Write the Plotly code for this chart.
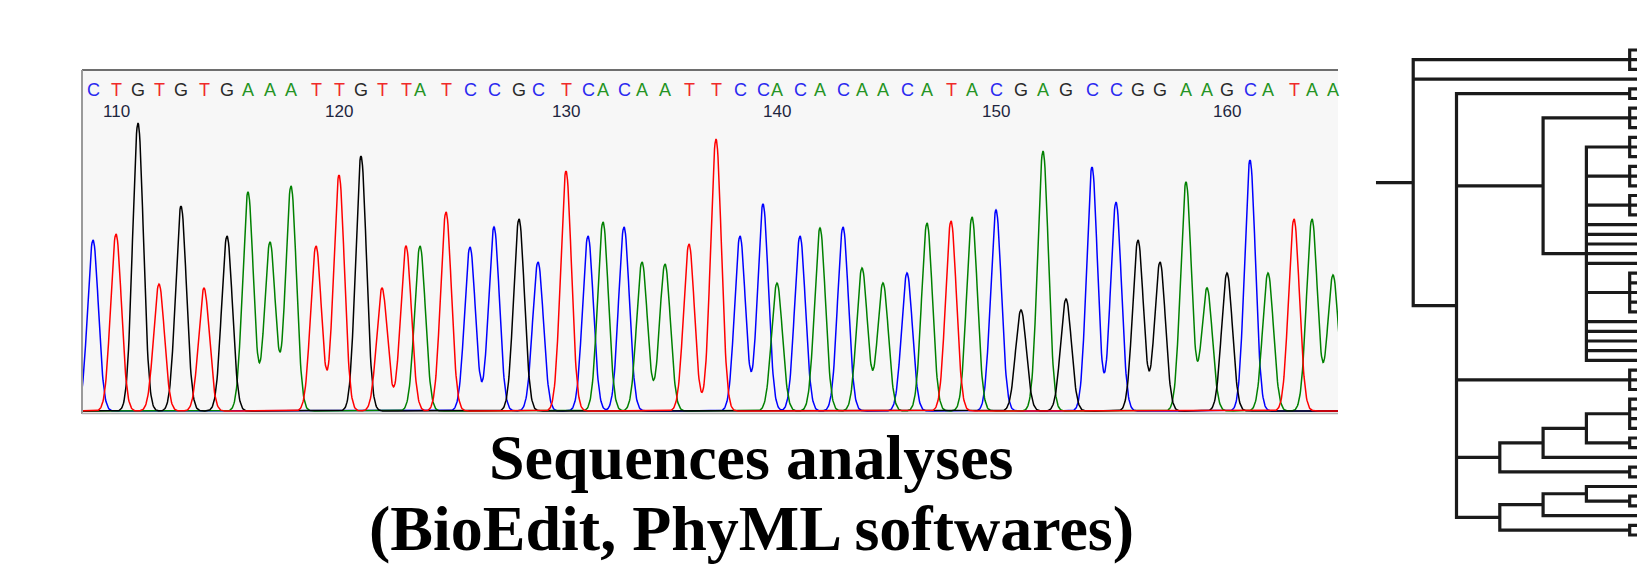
import numpy as np
import plotly.graph_objects as go

# ---------------- chromatogram data ----------------
sequence = "CTGTGTGAAATTGTTATCCGCTCACAATTCCACACAACATACGAGCCGGAAGCATAA"
first_position = 109
# base-call positions along the trace (scan units) and peak heights (signal units)
peak_pos = [10, 33, 55, 76, 98, 121, 144, 165, 187, 208, 233, 256, 278, 299, 323,
            337, 363, 387, 411, 436, 455, 483, 505, 520, 541, 559, 582, 606, 633,
            657, 680, 694, 717, 737, 760, 779, 800, 824, 844, 868, 889, 913, 938,
            960, 983, 1009, 1033, 1055, 1077, 1103, 1124, 1144, 1167, 1185, 1211,
            1229, 1250]
peak_height = [171, 177, 288, 127, 205, 123, 175, 219, 169, 225, 165, 236, 255, 123,
               165, 165, 199, 164, 184, 192, 149, 240, 175, 189, 184, 149, 147, 167,
               272, 175, 207, 128, 175, 183, 184, 143, 128, 138, 188, 190, 194, 201,
               101, 260, 112, 244, 209, 171, 149, 229, 123, 138, 251, 138, 192, 192,
               136]
peak_width = 5.4
scan_range = [0, 1255]
signal_range = [-2, 341]

# ---------------- phylogenetic tree (topology) ----------------
tree_newick = ("((L,L,L),L,((L,L),((L,L,L),((L,L,L),(L,L,L),(L,L,L),L,L,L,L,L,"
               "(L,L,L,L,L),L,L,L,L,L)),(L,L,L),((((L,L,L,L),(L,L)),L),(L,L)),"
               "(((L,(L,L)),L),(L,L))))")
root_stem = 0.86

title_lines = ["Sequences analyses", "(BioEdit, PhyML softwares)"]

base_color = {"C": "#0000ff", "T": "#ff0000", "G": "#000000", "A": "#008000"}
letter_color = {"C": "#2a2af0", "T": "#f02a2a", "G": "#2a2a2a", "A": "#249424"}

W, H = 1637, 567


def px_x(p):
    return p / W


def px_y(p):
    return 1 - p / H


fig = go.Figure()

# ---- chromatogram traces ----
xs = np.arange(scan_range[0] - 5, scan_range[1] + 5, 0.5)
for base in ["C", "A", "G", "T"]:
    ys = np.zeros_like(xs)
    for b, p, h in zip(sequence, peak_pos, peak_height):
        if b == base:
            ys += h * np.exp(-((xs - p) ** 2) / (2 * peak_width ** 2))
    fig.add_trace(go.Scatter(x=xs, y=ys, mode="lines",
                             line=dict(color=base_color[base], width=1.5),
                             hoverinfo="skip", showlegend=False,
                             xaxis="x", yaxis="y"))

# ---- tree layout ----
def parse(s):
    pos = 0

    def node():
        nonlocal pos
        if s[pos] == "(":
            pos += 1
            kids = [node()]
            while s[pos] == ",":
                pos += 1
                kids.append(node())
            pos += 1  # ')'
            return kids
        pos += 1
        return "L"
    return node()


tree = parse(tree_newick)
leaf_counter = [0]


def layout(n):
    if n == "L":
        y = leaf_counter[0]
        leaf_counter[0] += 1
        return {"h": 0, "y": y, "kids": []}
    kids = [layout(k) for k in n]
    return {"h": 1 + max(k["h"] for k in kids),
            "y": (kids[0]["y"] + kids[-1]["y"]) / 2, "kids": kids}


root = layout(tree)
tx, ty = [], []


def segs(n):
    if not n["kids"]:
        return
    k = n["kids"]
    tx.extend([k[0]["h"], n["h"], n["h"], k[-1]["h"], None])
    ty.extend([k[0]["y"], k[0]["y"], k[-1]["y"], k[-1]["y"], None])
    for c in k[1:-1]:
        tx.extend([n["h"], c["h"], None])
        ty.extend([c["y"], c["y"], None])
    for c in k:
        segs(c)


segs(root)
tx.extend([root["h"] + root_stem, root["h"], None])
ty.extend([root["y"], root["y"], None])
fig.add_trace(go.Scatter(x=tx, y=ty, mode="lines",
                         line=dict(color="#1a1a1a", width=3.2),
                         hoverinfo="skip", showlegend=False,
                         xaxis="x2", yaxis="y2"))

# ---- annotations: base letters and positions ----
ann = []
for i, (b, p) in enumerate(zip(sequence, peak_pos)):
    ann.append(dict(x=p, y=321, xref="x", yref="y", text=b, showarrow=False,
                    font=dict(family="Liberation Sans, Arial", size=18,
                              color=letter_color[b])))
    if (first_position + i) % 10 == 0:
        ann.append(dict(x=p, y=300, xref="x", yref="y",
                        text=str(first_position + i), showarrow=False,
                        font=dict(family="Liberation Sans, Arial", size=17,
                                  color="#1e2640")))

for txt, yc in zip(title_lines, [457, 528]):
    ann.append(dict(x=px_x(751), y=px_y(yc), xref="paper", yref="paper",
                    text="<b>%s</b>" % txt, showarrow=False,
                    xanchor="center", yanchor="middle",
                    font=dict(family="Liberation Serif, Times New Roman",
                              size=64, color="black")))

shapes = [
    dict(type="rect", xref="paper", yref="paper", x0=px_x(83), x1=px_x(1338),
         y0=px_y(413), y1=px_y(70), fillcolor="#f7f7f7", line=dict(width=0),
         layer="below"),
    dict(type="line", xref="paper", yref="paper", x0=px_x(82), x1=px_x(1338),
         y0=px_y(70), y1=px_y(70), line=dict(color="#6e6e6e", width=2)),
    dict(type="line", xref="paper", yref="paper", x0=px_x(82), x1=px_x(82),
         y0=px_y(70), y1=px_y(414), line=dict(color="#9a9a9a", width=2)),
    dict(type="line", xref="paper", yref="paper", x0=px_x(82), x1=px_x(1338),
         y0=px_y(413.5), y1=px_y(413.5), line=dict(color="#b0b0b0", width=1.5)),
]

fig.update_layout(
    width=W, height=H, margin=dict(l=0, r=0, t=0, b=0),
    paper_bgcolor="white", plot_bgcolor="rgba(0,0,0,0)",
    xaxis=dict(domain=[px_x(83), px_x(1338)], range=scan_range, visible=False,
               fixedrange=True),
    yaxis=dict(domain=[px_y(413), px_y(70)], range=signal_range, visible=False,
               fixedrange=True),
    xaxis2=dict(domain=[px_x(1360), 1], range=[7.229, 0.831], visible=False,
                anchor="y2", fixedrange=True),
    yaxis2=dict(domain=[0, 1], range=[53.30, -5.155], visible=False,
                anchor="x2", fixedrange=True),
    annotations=ann, shapes=shapes, showlegend=False,
)

fig.write_html("out.html")
